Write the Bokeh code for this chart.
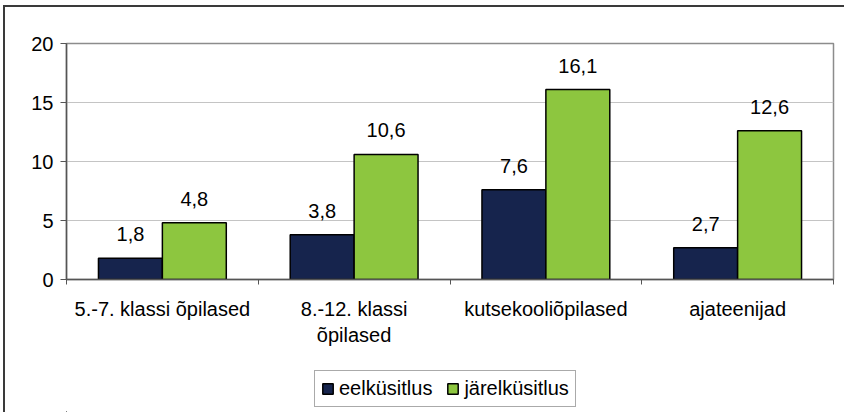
from bokeh.plotting import figure
from bokeh.layouts import column
from bokeh.models import Range1d, FixedTicker, Legend, LegendItem, ColumnDataSource
from bokeh.core.properties import value
from bokeh.embed import file_html
from bokeh.resources import INLINE

categories = ["5.-7. klassi õpilased", "8.-12. klassi\nõpilased", "kutsekooliõpilased", "ajateenijad"]
series_names = ["eelküsitlus", "järelküsitlus"]
eel = [1.8, 3.8, 7.6, 2.7]
jarel = [4.8, 10.6, 16.1, 12.6]
y_ticks = [0, 5, 10, 15, 20]
colors = ["#16244D", "#8DC63F"]

FONT = "Liberation Sans"
FS = "20px"

p = figure(width=844, height=360, output_backend="svg", toolbar_location=None,
           x_range=Range1d(0, len(categories)), y_range=Range1d(0, 20),
           min_border_left=66, min_border_right=11, min_border_top=43, min_border_bottom=81)

p.outline_line_color = "#8c8c8c"
p.outline_line_width = 1.5
p.background_fill_color = "white"
p.border_fill_color = None

sources = []
for k, (vals, col) in enumerate(zip([eel, jarel], colors)):
    xs = [i + (k + 1) / 3 for i in range(len(categories))]
    src = ColumnDataSource(dict(x=xs, top=vals,
                                lab=[f"{v:.1f}".replace(".", ",") for v in vals]))
    sources.append(src)
    p.vbar(x="x", top="top", width=1 / 3, bottom=0, source=src,
           fill_color=col, line_color="black", line_width=1.5)
    p.text(x="x", y="top", text="lab", source=src, text_align="center",
           text_baseline="alphabetic", y_offset=-24, text_font=value(FONT),
           text_font_size=FS, text_color="black")

# y axis
p.yaxis.ticker = FixedTicker(ticks=y_ticks)
p.yaxis.axis_line_color = "#555555"
p.yaxis.axis_line_width = 1.5
p.yaxis.major_tick_line_color = "#555555"
p.yaxis.major_tick_out = 6
p.yaxis.major_tick_in = 0
p.yaxis.minor_tick_line_color = None
p.yaxis.major_label_standoff = 7
p.yaxis.major_label_text_font = FONT
p.yaxis.major_label_text_font_size = FS
p.yaxis.major_label_text_color = "black"

# x axis
centers = [i + 0.5 for i in range(len(categories))]
bounds = list(range(len(categories) + 1))
p.xaxis.ticker = FixedTicker(ticks=centers, minor_ticks=bounds)
p.xaxis.major_label_overrides = {c: lab for c, lab in zip(centers, categories)}
p.xaxis.axis_line_color = "#555555"
p.xaxis.axis_line_width = 1.5
p.xaxis.major_tick_line_color = None
p.xaxis.major_tick_out = 0
p.xaxis.major_tick_in = 0
p.xaxis.minor_tick_line_color = "#555555"
p.xaxis.minor_tick_out = 5
p.xaxis.minor_tick_in = 0
p.xaxis.major_label_standoff = 13
p.xaxis.major_label_text_font = FONT
p.xaxis.major_label_text_font_size = FS
p.xaxis.major_label_text_color = "black"

p.xgrid.grid_line_color = None
p.ygrid.ticker = FixedTicker(ticks=y_ticks)
p.ygrid.grid_line_color = "#c4c4c4"
p.ygrid.grid_line_width = 1

# legend strip below the chart (its bars lie far outside its view; only the legend shows)
lf = figure(width=844, height=52, output_backend="svg", toolbar_location=None,
            x_range=Range1d(100, 101), y_range=Range1d(100, 101),
            x_axis_location=None, y_axis_location=None, min_border=0)
lf.outline_line_color = None
lf.background_fill_color = None
lf.border_fill_color = None
lf.xgrid.grid_line_color = None
lf.ygrid.grid_line_color = None
leg_renderers = [lf.vbar(x="x", top="top", width=1 / 3, bottom=0, source=src,
                         fill_color=col, line_color="black", line_width=1.5)
                 for src, col in zip(sources, colors)]
legend = Legend(items=[LegendItem(label=n, renderers=[r]) for n, r in zip(series_names, leg_renderers)],
                location=(248, 5), orientation="horizontal",
                glyph_width=13, glyph_height=13, label_standoff=5, spacing=14,
                padding=6, margin=0,
                label_text_font=FONT, label_text_font_size=FS, label_text_color="black",
                border_line_color="#555555", border_line_width=1,
                background_fill_color="white", background_fill_alpha=1)
lf.add_layout(legend, "center")

layout = column(p, lf, spacing=0,
                styles={"box-shadow": "inset 3px 5px 0 0 white, inset 5px 7px 0 0 #3a3a3a"})

open("out.html", "w").write(file_html(layout, INLINE))
